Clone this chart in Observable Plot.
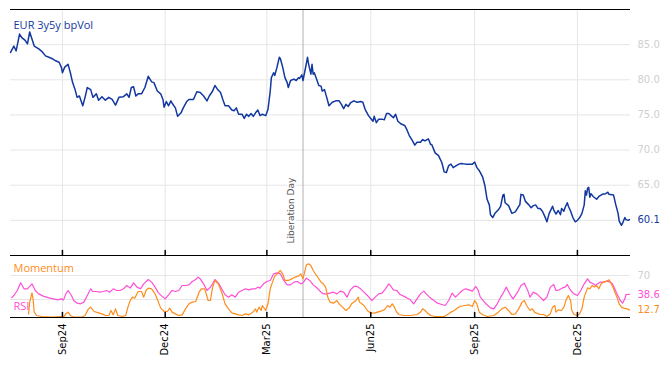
<!DOCTYPE html>
<html><head><meta charset="utf-8">
<script src="https://cdn.jsdelivr.net/npm/d3@7"></script>
<script src="https://cdn.jsdelivr.net/npm/@observablehq/plot@0.6"></script>
<style>
body{margin:0;background:#fff;}
#wrap{position:relative;width:668px;height:366px;overflow:hidden;background:#fff;}
#wrap svg{position:absolute;left:0;}
</style></head><body><div id="wrap"></div>
<script>
// ---- data ----
const startDate = "2024-07-17";
const endDate = "2026-01-17";
const title = "EUR 3y5y bpVol";
const eventDate = "2025-04-02";
const eventLabel = "Liberation Day";

// day offsets from startDate and values of the vol series
const volDays = [0,3,5,8,10,13,15,17,19,21,25,28,31,34,37,40,43,45,46,48,51,53,55,57,59,61,64,66,68,71,73,76,78,81,84,87,90,93,96,100,103,105,107,109,111,113,116,119,122,125,127,130,133,135,136,138,140,142,143,146,148,151,153,156,158,162,165,168,171,174,176,179,181,183,186,188,190,193,196,198,200,202,205,207,209,211,213,215,217,219,221,223,226,228,230,231,233,234,236,238,239,241,243,245,246,248,251,253,255,256,258,259,261,263,264,266,267,268,269,271,273,275,276,278,280,282,285,288,291,293,295,297,299,301,304,307,310,312,314,317,319,321,322,324,326,329,331,333,335,337,339,341,343,346,349,351,353,356,358,360,363,365,367,370,372,373,376,379,382,384,386,388,390,392,394,397,399,403,406,409,411,413,415,418,420,422,424,425,427,429,432,434,436,437,438,441,444,447,450,451,452,454,456,459,461,463,465,467,469,471,473,475,477,480,481,483,485,487,488,490,491,493,494,496,498,500,502,504,506,508,509,510,511,512,513,514,516,519,521,524,527,529,530,534,536,538,539,541,542,544,545,547,548];
const volValues = [83.9,84.8,84.1,86.5,86.0,85.6,85.1,86.8,85.8,84.8,84.4,84.0,83.4,83.2,83.0,82.7,82.5,81.8,81.0,81.8,82.2,81.0,79.6,78.7,77.5,77.7,76.3,77.5,78.9,78.6,77.5,78.0,77.1,77.6,77.1,77.5,77.2,76.4,77.5,77.6,78.0,77.5,78.9,79.0,77.7,78.0,78.0,78.9,80.5,79.7,79.6,78.4,78.0,77.2,76.1,76.9,76.3,77.0,76.7,76.0,74.8,75.3,76.0,76.9,77.2,77.2,78.3,78.2,77.7,77.0,77.7,78.4,79.2,78.7,78.2,77.2,76.3,76.3,75.7,75.6,76.0,75.1,75.1,74.5,75.1,74.8,75.2,74.8,75.3,75.7,74.9,75.1,74.9,75.8,78.4,80.3,81.0,80.6,81.8,83.2,83.0,81.8,80.3,79.6,78.9,79.9,80.1,79.9,80.3,80.2,80.7,79.9,81.5,83.2,82.2,80.8,82.2,80.8,81.0,80.1,79.2,79.1,78.4,78.6,77.5,76.3,76.8,77.0,77.0,76.5,75.9,76.5,76.2,76.7,77.0,76.8,76.9,76.8,75.8,74.9,74.5,74.1,74.8,73.9,74.4,74.4,74.3,75.2,75.2,74.9,74.6,75.1,74.1,73.7,73.5,72.9,72.1,71.3,70.7,71.1,71.1,71.5,71.3,71.6,70.8,70.8,69.6,69.2,68.2,66.9,66.8,67.8,68.0,67.5,67.7,68.0,68.1,68.0,68.0,68.0,68.3,67.5,67.1,66.2,65.0,63.0,62.2,60.8,60.4,61.0,61.5,62.0,63.6,63.7,62.5,62.1,61.0,61.2,62.0,62.2,63.7,63.6,62.7,62.2,61.8,62.1,62.2,61.7,61.7,61.3,60.6,59.8,61.0,62.0,61.5,60.9,61.4,60.8,61.7,61.3,61.8,62.5,62.0,61.3,60.4,59.8,60.0,60.4,61.0,62.2,64.2,63.6,64.6,64.7,63.3,63.8,63.4,63.0,63.4,63.7,63.8,64.0,63.7,63.6,62.2,61.0,59.9,59.3,59.6,60.4,60.1,60.0,60.1];

const rsiDays = [1,3,6,9,12,15,19,22,25,29,34,38,42,45,47,49,51,54,56,59,62,65,68,71,73,76,79,82,85,88,91,94,97,100,103,106,109,112,115,118,122,125,128,131,134,137,140,143,146,149,152,155,158,161,164,166,168,171,174,177,179,181,184,187,190,193,196,199,202,205,208,211,214,217,219,221,224,227,230,233,236,239,242,245,248,251,254,257,259,262,265,268,271,275,277,280,283,286,289,292,295,298,301,304,307,310,313,316,320,323,326,329,332,335,337,339,342,345,350,354,357,360,363,366,368,371,375,378,382,385,388,391,394,397,400,403,406,409,412,414,416,421,425,428,431,434,436,439,442,445,449,452,455,458,460,463,466,469,472,475,478,481,483,486,489,491,493,496,499,502,505,508,511,513,516,518,520,522,525,528,531,533,535,537,540,542,544,545,548];
const rsiValues = [33,36.7,45,57.8,47.8,47.8,56,45,39.4,35.6,32.8,31.1,29.4,31.1,29.4,39.4,45,36.7,28.3,23.9,22.8,25.6,36.7,47.8,43.3,43.3,42.2,43.3,45,42.2,47.8,45,45,47.8,53.3,48.9,57.8,50.6,47.8,56.1,63.3,58.9,50.6,41.1,35.6,31.1,37.8,45,43.3,45,53.3,53.3,54.4,60,63.3,67.2,64.4,56.1,45,50.6,56.1,63.3,57.8,47.8,37.8,33.9,37.8,33.9,42.2,45,47.8,46.1,47.8,47.8,50.6,48.9,56.1,60,61.7,72.8,74.4,72.8,61.7,54.4,54.4,58.9,60,56.1,57.8,65.6,61.7,54.4,50,42.2,39.4,39.4,40.6,42.2,39.4,43.9,42.2,33.9,46.1,51.7,51.7,47.8,42.2,36.7,28.3,33.9,39.4,40.6,47.8,56.1,51.7,46.1,45,38.3,33.9,29.4,22.8,31.1,39.4,43.9,39.4,33.9,28.3,23.9,21.7,20,28.3,40.6,33.9,39.4,45,47.8,46.1,43.9,51.7,46.1,33.9,22.8,16.1,14.4,22.8,33.9,39.4,50.6,39.4,31.1,42.2,53.3,57.2,45,33.9,42.2,39.4,33.9,28.3,33.9,50.6,55,45,46.1,49.4,50.6,55,45,39.4,36.7,45,56.1,64.4,58.9,56.1,53.3,56.1,58.9,58.9,60.6,58.9,56.1,47.8,39.4,28.3,23.9,31.1,38.3,38.6];

const momDays = [16,17,19,20,21,23,28,37,44,47,49,51,53,56,63,66,69,71,74,78,81,84,87,89,91,93,95,99,102,104,106,108,110,113,116,118,120,122,125,128,131,133,136,139,141,143,146,149,152,155,158,161,164,167,169,172,175,177,179,181,184,187,190,193,196,199,202,205,208,211,214,217,218,220,222,223,226,228,230,232,234,237,239,241,243,246,249,252,255,257,259,262,264,266,268,271,275,277,279,281,283,286,289,291,294,297,300,302,306,308,309,311,313,316,319,322,325,328,331,334,336,338,340,342,344,348,354,360,363,365,367,370,372,376,384,387,390,393,396,398,402,406,409,411,413,415,418,422,428,432,435,438,441,444,447,450,453,455,457,460,462,464,466,469,472,475,478,480,482,483,485,488,490,492,494,496,497,499,502,504,506,508,511,513,515,517,519,521,523,525,528,530,532,534,537,539,541,543,546,548];
const momValues = [6,25.6,41,31,8.9,3.3,1.7,0.5,1.7,0.5,6.1,8.9,3.3,0.5,0.5,3.3,14.4,17.2,10,7.8,6.1,3.3,3.3,11.7,4.4,14.4,3.3,1.7,3.3,17.2,28.3,33.9,32.2,43.3,43.3,33.9,45,48.9,47.8,39.4,25.6,15.6,10,10,15.6,8.9,6.1,3.3,4.4,14.4,22.8,25.6,26.7,42.2,47.8,47.8,28.3,28.3,50.6,61.7,56.1,42.2,22.8,14.4,7.8,6.1,4.4,3.3,6.1,4.4,7.8,14.4,8.9,17.2,11.7,20,11.7,22.8,47.8,58.9,68.9,74.4,78.3,72.8,61.7,61.7,64.4,67.2,68.9,72.8,64.4,87.8,89.4,86.7,78.3,70,58.9,56.1,50.6,33.9,25.6,23.9,28.3,22.8,17.2,11.7,16.1,22.8,28.3,33.9,25.6,22.8,20,11.7,7.2,7.2,8.9,10.6,12.8,20,17.2,22.8,17.2,8.9,5,3.3,3.3,5,8.9,14.4,11.7,6.1,3.3,1.7,1.7,5,8.9,11.7,16.1,18.3,20,21.1,18.3,28.3,22.8,8.9,5,1.7,3.3,8.9,14.4,17.2,11.7,5,6.1,14.4,25.6,28.3,20,11.7,14.4,8.9,7.2,5,5,1.7,6.1,17.2,20,8.9,12.8,11.7,17.2,29.4,36.7,28.3,11.7,5,3.3,6.1,14.4,33.9,49.4,47.8,53.3,50.6,53.3,47.8,56.1,58.9,60.6,62.8,56.1,47.8,33.9,22.8,17.2,15.6,14.4,12.7];

const xTickDates = ["2024-09-01","2024-12-01","2025-03-01","2025-06-01","2025-09-01","2025-12-01"];
const xTickLabels = ["Sep24","Dec24","Mar25","Jun25","Sep25","Dec25"];
const volTicks = [85, 80, 75, 70, 65];
const volGrid = [60, 65, 70, 75, 80, 85];
const oscGrid = [30, 70];
const oscTicks = [70];
const legendMomentum = "Momentum";
const legendRsi = "RSI";

// ---- styling ----
const BLUE = "#1238a0", PINK = "#ff4fd8", ORANGE = "#ff8c1a";
const GRID = "#e6e6e6", TICKTXT = "#cfcfcf";

const parse = d3.utcParse("%Y-%m-%d");
const t0 = parse(startDate);
const xDomain = [t0, parse(endDate)];
const ticks = xTickDates.map(parse);
const ev = parse(eventDate);
const vol = volDays.map((d, i) => ({date: d3.utcDay.offset(t0, d), value: volValues[i]}));
const rsi = rsiDays.map((d, i) => ({date: d3.utcDay.offset(t0, d), value: rsiValues[i]}));
const mom = momDays.map((d, i) => ({date: d3.utcDay.offset(t0, d), value: momValues[i]}));
const volDom = [55, 90];
const oscDom = [0, 103.3];

// inward tick: a plain line pointing up from the axis
const tickShape = {draw(context, l) { context.moveTo(0, 0); context.lineTo(0, -l); }};

const chartTop = Plot.plot({
  width: 668, height: 256,
  marginLeft: 10, marginRight: 38, marginTop: 9, marginBottom: 1,
  style: {background: "transparent", fontFamily: "DejaVu Sans", fontSize: "10px", overflow: "visible"},
  x: {type: "utc", domain: xDomain, axis: null},
  y: {domain: volDom, axis: null},
  marks: [
    Plot.ruleY(volGrid, {stroke: GRID}),
    Plot.ruleX(ticks, {stroke: GRID}),
    Plot.ruleX([ev], {stroke: "#b0b0b0"}),
    Plot.text([eventLabel], {x: () => ev, frameAnchor: "bottom", rotate: -90, textAnchor: "start", lineAnchor: "middle",
      dx: -12, dy: -12, fill: "#555", stroke: "white", strokeWidth: 4, fontSize: 9, fontFamily: "DejaVu Sans"}),
    Plot.line(vol, {x: "date", y: "value", stroke: BLUE, strokeWidth: 1.5}),
    Plot.ruleY([volDom[1]], {stroke: "black"}),
    Plot.ruleY([volDom[0]], {stroke: "black"}),
    Plot.vector(ticks, {x: d => d, y: () => volDom[0], length: 5, rotate: 0, anchor: "start", shape: tickShape, stroke: "black"}),
    Plot.axisY(volTicks, {anchor: "right", label: null, tickSize: 0, tickPadding: 7, tickFormat: d => d.toFixed(1), fill: TICKTXT, fontSize: 10}),
    Plot.text([vol[vol.length - 1]], {y: "value", frameAnchor: "right", textAnchor: "start", lineAnchor: "middle", dx: 7,
      text: d => d.value.toFixed(1), fill: BLUE, fontSize: 10}),
    Plot.text([title], {frameAnchor: "top-left", textAnchor: "start", lineAnchor: "middle", dx: 3, dy: 16,
      fill: BLUE, fontSize: 11, fontFamily: "Open Sans"})
  ]
});
chartTop.style.top = "0px";

const chartBottom = Plot.plot({
  width: 668, height: 111,
  marginLeft: 10, marginRight: 38, marginTop: 0, marginBottom: 49,
  style: {background: "transparent", fontFamily: "DejaVu Sans", fontSize: "10px", overflow: "visible"},
  x: {type: "utc", domain: xDomain, axis: null},
  y: {domain: oscDom, axis: null},
  marks: [
    Plot.ruleY(oscGrid, {stroke: GRID}),
    Plot.ruleX(ticks, {stroke: GRID}),
    Plot.ruleX([ev], {stroke: "#b0b0b0"}),
    Plot.line(rsi, {x: "date", y: "value", stroke: PINK, strokeWidth: 1.2}),
    Plot.line(mom, {x: "date", y: "value", stroke: ORANGE, strokeWidth: 1.2}),
    Plot.ruleY([oscDom[1]], {stroke: "black"}),
    Plot.ruleY([oscDom[0]], {stroke: "black"}),
    Plot.vector(ticks, {x: d => d, y: () => oscDom[0], length: 5, rotate: 0, anchor: "start", shape: tickShape, stroke: "black"}),
    Plot.axisY(oscTicks, {anchor: "right", label: null, tickSize: 0, tickPadding: 7, tickFormat: d => String(d), fill: TICKTXT, fontSize: 10}),
    Plot.text([rsi[rsi.length - 1]], {y: "value", frameAnchor: "right", textAnchor: "start", lineAnchor: "middle", dx: 7,
      text: d => d.value.toFixed(1), fill: PINK, fontSize: 10}),
    Plot.text([mom[mom.length - 1]], {y: "value", frameAnchor: "right", textAnchor: "start", lineAnchor: "middle", dx: 7,
      text: d => d.value.toFixed(1), fill: ORANGE, fontSize: 10}),
    Plot.axisX(ticks, {anchor: "bottom", label: null, tickSize: 0, tickPadding: 6, tickRotate: -90, fontSize: 10, fill: "black",
      tickFormat: d => xTickLabels[ticks.findIndex(t => +t === +d)]}),
    Plot.text([legendMomentum], {frameAnchor: "top-left", textAnchor: "start", lineAnchor: "middle", dx: 3, dy: 13,
      fill: ORANGE, fontSize: 11, fontFamily: "Open Sans"}),
    Plot.text([legendRsi], {frameAnchor: "top-left", textAnchor: "start", lineAnchor: "middle", dx: 3, dy: 51,
      fill: PINK, fontSize: 11, fontFamily: "Open Sans"})
  ]
});
chartBottom.style.top = "255px";

const wrap = document.getElementById("wrap");
wrap.appendChild(chartTop);
wrap.appendChild(chartBottom);
</script></body></html>
